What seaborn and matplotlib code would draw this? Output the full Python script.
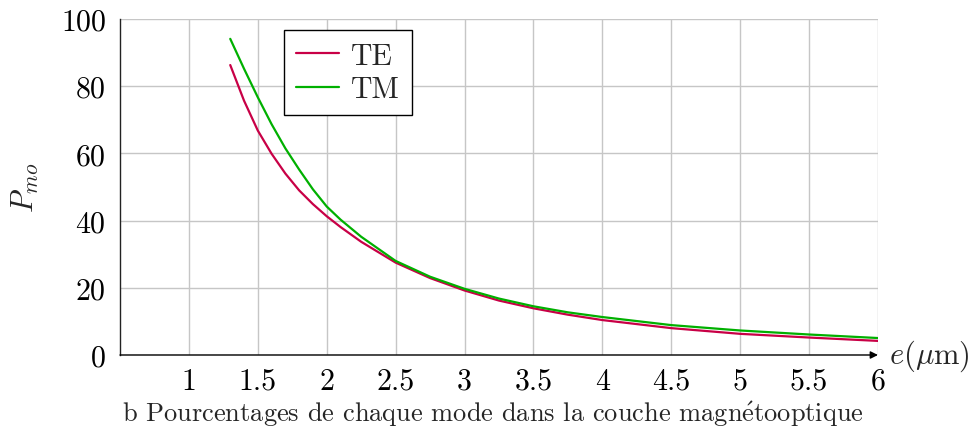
import matplotlib
matplotlib.use("Agg")
import matplotlib.pyplot as plt
import pandas as pd
import seaborn as sns

# Film thickness e (µm) and share of each guided mode inside the magneto-optic layer (%)
thickness = [1.3, 1.4, 1.5, 1.6, 1.7, 1.8, 1.9, 2.0, 2.1, 2.25, 2.5, 2.75, 3.0,
             3.25, 3.5, 3.75, 4.0, 4.5, 5.0, 5.5, 6.0]
te_percent = [86.3, 75.7, 66.8, 59.9, 54.0, 49.0, 44.9, 41.3, 38.1, 33.7, 27.5, 22.9, 19.2,
              16.2, 13.9, 12.0, 10.4, 8.0, 6.3, 5.2, 4.2]
tm_percent = [94.1, 85.2, 76.7, 68.7, 61.5, 55.2, 49.3, 44.2, 40.3, 35.2, 28.0, 23.3, 19.7,
              16.8, 14.5, 12.7, 11.3, 8.9, 7.3, 6.1, 5.05]
modes = ["TE", "TM"]
x_ticks = [1, 1.5, 2, 2.5, 3, 3.5, 4, 4.5, 5, 5.5, 6]
x_tick_labels = ["1", "1.5", "2", "2.5", "3", "3.5", "4", "4.5", "5", "5.5", "6"]
y_ticks = [0, 20, 40, 60, 80, 100]
caption = r"b Pourcentages de chaque mode dans la couche magn$\mathrm{\acute{e}}$tooptique"

df = pd.DataFrame({
    "e": thickness * 2,
    "P": te_percent + tm_percent,
    "mode": [modes[0]] * len(thickness) + [modes[1]] * len(thickness),
})

sns.set_theme(style="white")
plt.rcParams["font.family"] = ["cmr10"]
plt.rcParams["mathtext.fontset"] = "cm"
plt.rcParams["axes.formatter.use_mathtext"] = True
plt.rcParams["axes.unicode_minus"] = False

fig = plt.figure(figsize=(9.74, 4.35), dpi=100)
ax = fig.add_axes([0.1232, 0.1816, 0.7782, 0.7724])

palette = {"TE": "#c80046", "TM": "#00b000"}
sns.lineplot(data=df, x="e", y="P", hue="mode", palette=palette, ax=ax,
             linewidth=1.6, legend=False)

ax.set_xlim(0.5, 6)
ax.set_ylim(0, 100)
ax.set_xticks(x_ticks)
ax.set_xticklabels(x_tick_labels)
ax.set_yticks(y_ticks)
ax.grid(True, color="#c6c6c6", linewidth=1.0)
ax.set_axisbelow(True)

for side in ["top", "right", "bottom"]:
    ax.spines[side].set_visible(False)
ax.spines["left"].set_color("#222222")
ax.spines["left"].set_linewidth(1.0)

# bottom axis drawn as an arrow
ax.annotate("", xy=(1.0, 0.0), xytext=(0.0, 0.0), xycoords="axes fraction",
            arrowprops=dict(arrowstyle="-|>", color="black", lw=1.0,
                            mutation_scale=11, shrinkA=0, shrinkB=0))

ax.tick_params(axis="x", direction="inout", length=6, width=0.8, color="#444444",
               labelsize=21.5, pad=6)
ax.tick_params(axis="y", direction="in", length=4, width=0.8, color="#444444",
               labelsize=21.5, pad=10)
for lbl in ax.get_xticklabels() + ax.get_yticklabels():
    lbl.set_color("black")

ax.set_xlabel("")
ax.set_ylabel(r"$P_{mo}$", fontsize=22, labelpad=14)
ax.text(1.014, 0.0, r"$e(\mu\mathrm{m})$", transform=ax.transAxes, fontsize=22,
        ha="left", va="center")

handles = [plt.Line2D([], [], color=palette[m], linewidth=1.6) for m in modes]
leg = ax.legend(handles, modes, loc="upper left", bbox_to_anchor=(0.2164, 0.966),
                borderaxespad=0, fontsize=21.5, frameon=True, fancybox=False,
                framealpha=1, edgecolor="black", handlelength=1.45,
                handletextpad=0.4, labelspacing=0.2, borderpad=0.4)
leg.get_frame().set_linewidth(1.0)

fig.text(0.5057, 0.0306, caption, ha="center", va="baseline", fontsize=19)

fig.savefig("out.png", dpi=100)
